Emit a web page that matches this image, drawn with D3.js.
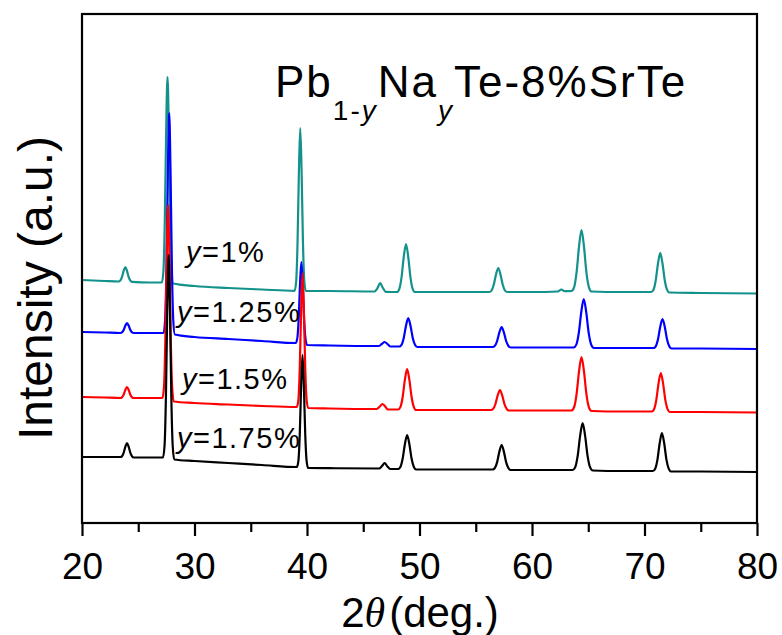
<!doctype HTML>
<html>
<head>
    <style>
        body { margin: 0; background: #fff; }
        text { font-family: "Liberation Sans", Arial, sans-serif; fill: #000; }
        .trace { fill: none; stroke-width: 2.2; stroke-linejoin: round; }
    </style>
    <script src="https://d3js.org/d3.v7.min.js"></script>
</head>
<body>
<script>
    // XRD patterns, 2theta (deg.) vs intensity (a.u., already offset per sample)
    var labels = ["1%", "1.25%", "1.5%", "1.75%"];

    var y100 = [[20.0,2430],[22.0,2420],[23.25,2415],[23.4,2424],[23.55,2459],[23.7,2521],[23.85,2560],[24.0,2521],[24.15,2459],[24.3,2424],[24.45,2412],
        [26.0,2405],[27.1,2405],[27.24,2524],[27.36,3018],[27.48,3904],[27.6,4460],[27.72,3904],[27.84,3018],[27.96,2524],[28.1,2395],
        [30,2370],[33,2350],[36,2335],[38.9,2322],[39.04,2418],[39.16,2809],[39.28,3510],[39.4,3950],[39.52,3510],[39.64,2809],[39.76,2418],[39.9,2320],
        [42,2320],[46.0,2315],[46.25,2345],[46.5,2400],[46.75,2350],[47.0,2312],
        [48.0,2310],[48.2,2339],[48.4,2454],[48.6,2660],[48.8,2790],[49.0,2660],[49.2,2454],[49.4,2339],[49.6,2310],
        [52,2310],[56.2,2310],[56.4,2324],[56.6,2382],[56.8,2485],[57.0,2550],[57.2,2485],[57.4,2382],[57.6,2324],[57.8,2310],
        [60,2310],[62.3,2315],[62.6,2335],[62.9,2318],[63.5,2320],[63.74,2357],[63.96,2503],[64.18,2765],[64.4,2930],[64.62,2765],[64.84,2503],[65.06,2357],[65.3,2315],
        [68,2310],[70.6,2310],[70.8,2333],[71.0,2427],[71.2,2595],[71.4,2700],[71.6,2595],[71.8,2427],[72.0,2333],[72.2,2305],
        [75,2300],[80,2295]];

    var y125 = [[20.0,1910],[22.0,1905],[23.4,1900],[23.55,1906],[23.7,1930],[23.85,1973],[24.0,2000],[24.15,1973],[24.3,1930],[24.45,1906],[24.6,1900],
        [26.0,1900],[27.25,1900],[27.39,2032],[27.51,2560],[27.63,3506],[27.75,4100],[27.87,3506],[27.99,2560],[28.11,2032],[28.25,1885],
        [30,1860],[33,1840],[36,1820],[39.0,1800],[39.14,1849],[39.26,2043],[39.38,2391],[39.5,2610],[39.62,2391],[39.74,2043],[39.86,1849],[40.0,1780],
        [42,1775],[46.4,1770],[46.65,1790],[46.9,1810],[47.15,1790],[47.4,1765],
        [48.2,1765],[48.4,1782],[48.6,1851],[48.8,1973],[49.0,2050],[49.2,1973],[49.4,1851],[49.6,1782],[49.8,1760],
        [52,1760],[56.5,1760],[56.7,1772],[56.9,1820],[57.1,1906],[57.3,1960],[57.5,1906],[57.7,1820],[57.9,1772],[58.1,1755],
        [60,1755],[63.7,1755],[63.94,1784],[64.16,1901],[64.38,2109],[64.6,2240],[64.82,2109],[65.04,1901],[65.26,1784],[65.5,1750],
        [68,1750],[70.8,1750],[71.0,1767],[71.2,1837],[71.4,1962],[71.6,2040],[71.8,1962],[72.0,1837],[72.2,1767],[72.4,1745],
        [75,1745],[80,1740]];

    var y150 = [[20.0,1260],[22.0,1255],[23.4,1250],[23.55,1257],[23.7,1283],[23.85,1330],[24.0,1360],[24.15,1330],[24.3,1283],[24.45,1257],[24.6,1250],
        [26.0,1250],[27.15,1250],[27.29,1366],[27.41,1829],[27.53,2659],[27.65,3180],[27.77,2659],[27.89,1829],[28.01,1366],[28.15,1215],
        [30,1200],[33,1185],[36,1170],[39.1,1160],[39.24,1240],[39.36,1562],[39.48,2138],[39.6,2500],[39.72,2138],[39.84,1562],[39.96,1240],[40.1,1150],
        [42,1145],[46.2,1140],[46.45,1162],[46.7,1190],[46.95,1165],[47.2,1135],
        [48.1,1135],[48.3,1159],[48.5,1257],[48.7,1431],[48.9,1540],[49.1,1431],[49.3,1257],[49.5,1159],[49.7,1130],
        [52,1130],[56.35,1130],[56.55,1142],[56.75,1190],[56.95,1276],[57.15,1330],[57.35,1276],[57.55,1190],[57.75,1142],[57.95,1125],
        [60,1125],[63.5,1125],[63.74,1157],[63.96,1286],[64.18,1516],[64.4,1660],[64.62,1516],[64.84,1286],[65.06,1157],[65.3,1120],
        [68,1115],[70.65,1115],[70.85,1138],[71.05,1231],[71.25,1396],[71.45,1500],[71.65,1396],[71.85,1231],[72.05,1138],[72.25,1110],
        [75,1110],[80,1105]];

    var y175 = [[20.0,660],[22.0,660],[23.4,660],[23.55,667],[23.7,701],[23.85,762],[24.0,800],[24.15,762],[24.3,701],[24.45,667],[24.6,655],
        [26.0,655],[27.2,655],[27.34,777],[27.46,1263],[27.58,2133],[27.7,2680],[27.82,2133],[27.94,1263],[28.06,777],[28.2,635],
        [30,620],[33,600],[36,580],[39.1,560],[39.24,627],[39.36,896],[39.48,1378],[39.6,1680],[39.72,1378],[39.84,896],[39.96,627],[40.1,550],
        [42,548],[46.4,545],[46.65,567],[46.9,600],[47.15,565],[47.4,540],
        [48.1,540],[48.3,560],[48.5,642],[48.7,788],[48.9,880],[49.1,788],[49.3,642],[49.5,560],[49.7,535],
        [52,535],[56.5,535],[56.7,550],[56.9,609],[57.1,714],[57.3,780],[57.5,714],[57.7,609],[57.9,550],[58.1,530],
        [60,530],[63.6,530],[63.84,558],[64.06,671],[64.28,873],[64.5,1000],[64.72,873],[64.94,671],[65.16,558],[65.4,525],
        [68,520],[70.75,520],[70.95,543],[71.15,634],[71.35,797],[71.55,900],[71.75,797],[71.95,634],[72.15,543],[72.35,515],
        [75,515],[80,510]];

    var series = [y100, y125, y150, y175];
    var colors = ["#13918b", "#0000ff", "#ff0000", "#000000"];
    var xTicks = [20, 30, 40, 50, 60, 70, 80];

    var canvasWidth = 782;
    var canvasHeight = 635;
    var plotLeft = 82, plotRight = 757, plotTop = 14, plotBottom = 523;

    var svg = d3.select("body").append("svg")
        .attr("width", canvasWidth)
        .attr("height", canvasHeight);

    var xScale = d3.scaleLinear().domain([20, 80]).range([plotLeft, plotRight]);
    var yScale = d3.scaleLinear().domain([0, 5090]).range([plotBottom, plotTop]);

    var line = d3.line()
        .x(function(d) { return xScale(d[0]); })
        .y(function(d) { return yScale(d[1]); })
        .curve(d3.curveMonotoneX);

    // traces
    svg.selectAll(".trace")
        .data(series)
        .enter().append("path")
        .attr("class", "trace")
        .attr("stroke", function(d, i) { return colors[i]; })
        .attr("d", line);

    // frame
    svg.append("rect")
        .attr("x", plotLeft).attr("y", plotTop)
        .attr("width", plotRight - plotLeft).attr("height", plotBottom - plotTop)
        .attr("fill", "none").attr("stroke", "#000").attr("stroke-width", 2.2);

    // x axis with major + minor ticks
    var xAxis = svg.append("g").attr("transform", "translate(0," + plotBottom + ")");
    xAxis.append("g").call(d3.axisBottom(xScale).tickValues(d3.range(25, 80, 10)).tickSize(9).tickFormat(""));
    xAxis.append("g").call(d3.axisBottom(xScale).tickValues(xTicks).tickSize(13).tickPadding(17).tickFormat(d3.format("d")));
    xAxis.selectAll(".domain").remove();
    xAxis.selectAll("line").attr("stroke-width", 2.2);
    xAxis.selectAll("text")
        .attr("font-size", "37px")
        .style("font-family", "'Liberation Sans', Arial, sans-serif");

    // axis titles
    var xl = svg.append("text")
        .attr("x", 420).attr("y", 627)
        .attr("text-anchor", "middle")
        .attr("font-size", "42px");
    xl.append("tspan").text("2");
    xl.append("tspan").attr("font-family", "'Liberation Serif', serif").attr("font-style", "italic").text("\u03B8");
    xl.append("tspan").attr("dx", 4).text("(deg.)");

    svg.append("text")
        .attr("transform", "translate(52,288) rotate(-90)")
        .attr("text-anchor", "middle")
        .attr("font-size", "48px")
        .text("Intensity (a.u.)");

    // title
    var title = svg.append("text").attr("x", 275).attr("y", 97)
        .attr("font-size", "44px").attr("letter-spacing", "2px");
    title.append("tspan").text("Pb");
    title.append("tspan").attr("font-size", "28px").attr("dy", 23).text("1-");
    title.append("tspan").attr("font-size", "28px").attr("font-style", "italic").text("y");
    title.append("tspan").attr("dy", -23).text("Na");
    title.append("tspan").attr("font-size", "28px").attr("font-style", "italic").attr("dy", 23).text("y");
    title.append("tspan").attr("dy", -23).text("Te-8%SrTe");

    // sample labels
    var labelPos = [[186, 262], [177, 322], [182, 389], [177, 448]];
    labels.forEach(function(l, i) {
        var t = svg.append("text")
            .attr("x", labelPos[i][0]).attr("y", labelPos[i][1])
            .attr("font-size", "29px")
            .attr("letter-spacing", "1.5px");
        t.append("tspan").attr("font-style", "italic").text("y");
        t.append("tspan").text("=" + l);
    });
</script>
</body>
</html>
